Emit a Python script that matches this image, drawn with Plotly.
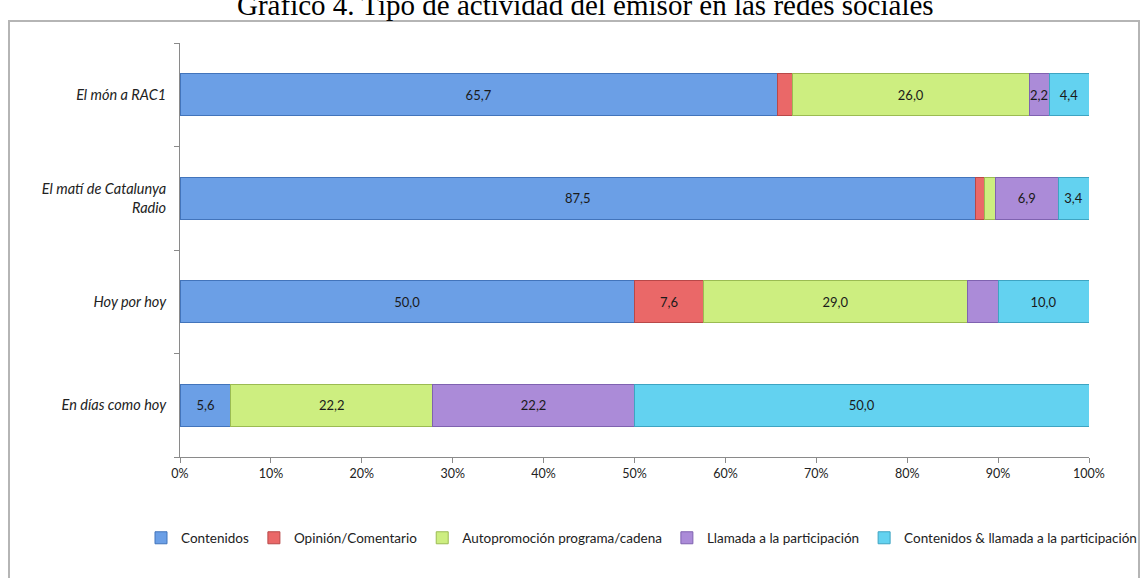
import plotly.graph_objects as go

categories = ["El món a RAC1", "El matí de Catalunya<br>Radio", "Hoy por hoy", "En días como hoy"]
series_names = ["Contenidos", "Opinión/Comentario", "Autopromoción programa/cadena",
                "Llamada a la participación", "Contenidos & llamada a la participación"]
contenidos = [65.7, 87.5, 50.0, 5.6]
opinion = [1.7, 1.0, 7.6, 0.0]
autopromocion = [26.0, 1.2, 29.0, 22.2]
llamada = [2.2, 6.9, 3.4, 22.2]
cont_llamada = [4.4, 3.4, 10.0, 50.0]

labels_contenidos = ["65,7", "87,5", "50,0", "5,6"]
labels_opinion = ["", "", "7,6", ""]
labels_autopromocion = ["26,0", "", "29,0", "22,2"]
labels_llamada = ["2,2", "6,9", "", "22,2"]
labels_cont_llamada = ["4,4", "3,4", "10,0", "50,0"]

x_ticks = [0, 10, 20, 30, 40, 50, 60, 70, 80, 90, 100]
x_tick_labels = ["0%", "10%", "20%", "30%", "40%", "50%", "60%", "70%", "80%", "90%", "100%"]

fills = ["#6b9fe6", "#ea6868", "#cdee80", "#ab8bd8", "#63d2f0"]
edges = ["#4274bb", "#b84848", "#9bbb52", "#7f62b0", "#3ea4c2"]

values = [contenidos, opinion, autopromocion, llamada, cont_llamada]
texts = [labels_contenidos, labels_opinion, labels_autopromocion, labels_llamada, labels_cont_llamada]

FONT = "Lato, 'Open Sans', sans-serif"

fig = go.Figure()
for name, vals, txt, fc, ec in zip(series_names, values, texts, fills, edges):
    fig.add_trace(go.Bar(
        y=categories, x=vals, name=name, orientation="h",
        text=txt, textposition="inside", insidetextanchor="middle",
        textangle=0, textfont=dict(family=FONT, size=13, color="#1a1a1a"),
        marker=dict(color=fc, line=dict(color=ec, width=1)),
        hoverinfo="skip",
    ))

W, H = 1142, 578
L, R, T, B = 180, 53, 43, 121
pw, ph = W - L - R, H - T - B

def px_x(x):
    return (x - L) / pw

def px_y(y):
    return (H - B - y) / ph

fig.update_layout(
    width=W, height=H,
    barmode="stack", bargap=0.59,
    margin=dict(l=L, r=R, t=T, b=B),
    paper_bgcolor="white", plot_bgcolor="white",
    font=dict(family=FONT, size=12, color="#222222"),
    uniformtext=dict(minsize=13, mode="show"),
    showlegend=True,
    legend=dict(orientation="h", x=px_x(146), xanchor="left", y=px_y(538), yanchor="middle",
                font=dict(family=FONT, size=13.5, color="#222222"), traceorder="normal",
                itemwidth=30, bgcolor="rgba(0,0,0,0)"),
    xaxis=dict(range=[0, 100], tickvals=x_ticks, ticktext=x_tick_labels,
               showgrid=False, zeroline=False, showline=True, linecolor="#8a8a8a", linewidth=1,
               ticks="outside", ticklen=5, tickcolor="#8a8a8a",
               tickfont=dict(family=FONT, size=12.5, color="#222222")),
    yaxis=dict(categoryorder="array", categoryarray=categories[::-1],
               showgrid=False, zeroline=False, showline=True, linecolor="#8a8a8a", linewidth=1,
               ticks="outside", ticklen=5, tickcolor="#8a8a8a", tickson="boundaries",
               ticklabelstandoff=10,
               tickfont=dict(family=FONT, size=14.5, color="#222222", style="italic")),
    shapes=[dict(type="rect", xref="paper", yref="paper",
                 x0=px_x(9), x1=px_x(1139), y0=px_y(600), y1=px_y(21),
                 line=dict(color="#b5b5b5", width=2), fillcolor="rgba(0,0,0,0)", layer="below")],
    annotations=[dict(text="Gráfico 4. Tipo de actividad del emisor en las redes sociales",
                      xref="paper", yref="paper", x=px_x(585), y=px_y(5), xanchor="center",
                      yanchor="middle", showarrow=False,
                      font=dict(family="'Liberation Serif', 'DejaVu Serif', serif", size=29, color="#000000"))],
)

fig.write_html("out.html", config={"displayModeBar": False},
               post_script="document.body.style.margin='0';document.body.style.overflow='hidden';")
